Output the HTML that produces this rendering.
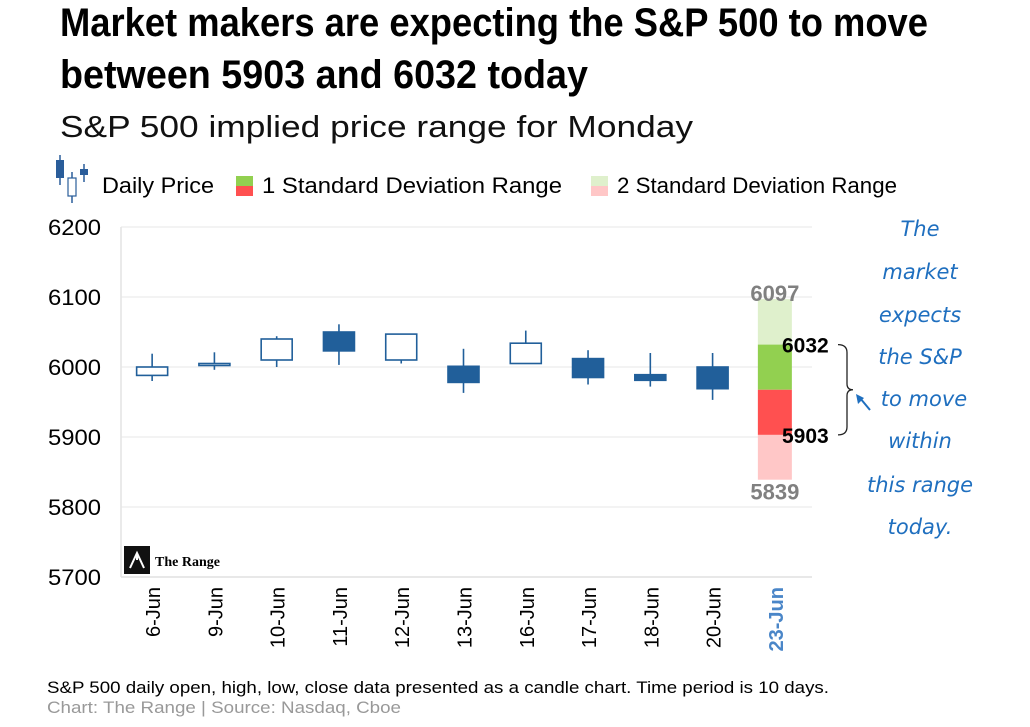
<!DOCTYPE html>
<html><head><meta charset="utf-8"><style>
body{margin:0;width:1030px;height:722px;background:#fff;overflow:hidden;font-family:"Liberation Sans",sans-serif}
</style></head><body>
<svg width="1030" height="722" viewBox="0 0 1030 722" xmlns="http://www.w3.org/2000/svg">
<text x="60" y="36" font-family="Liberation Sans Narrow, Liberation Sans, sans-serif" font-weight="bold" font-size="40" textLength="868" lengthAdjust="spacingAndGlyphs">Market makers are expecting the S&amp;P 500 to move</text>
<text x="60" y="88" font-family="Liberation Sans Narrow, Liberation Sans, sans-serif" font-weight="bold" font-size="40" textLength="528" lengthAdjust="spacingAndGlyphs">between 5903 and 6032 today</text>
<text x="60" y="137" font-size="31" fill="#111" textLength="633" lengthAdjust="spacingAndGlyphs">S&amp;P 500 implied price range for Monday</text>
<g>
<g>
<line x1="60" y1="155" x2="60" y2="185" stroke="#2a5d9a" stroke-width="1.5"/><rect x="56" y="160" width="8" height="18" fill="#2a5d9a"/>
<line x1="72" y1="172" x2="72" y2="203" stroke="#2a5d9a" stroke-width="1.5"/><rect x="68" y="178" width="8" height="18" fill="#fff" stroke="#2a5d9a" stroke-width="1.2"/>
<line x1="84" y1="164" x2="84" y2="182" stroke="#2a5d9a" stroke-width="1.5"/><rect x="80" y="169" width="8" height="6" fill="#2a5d9a"/>
</g>
<text x="102" y="193" font-size="22" textLength="112" lengthAdjust="spacingAndGlyphs">Daily Price</text>
<rect x="236" y="176" width="17" height="10" fill="#92d050"/><rect x="236" y="186" width="17" height="10" fill="#ff5050"/>
<text x="262" y="193" font-size="22" textLength="300" lengthAdjust="spacingAndGlyphs">1 Standard Deviation Range</text>
<rect x="591" y="176" width="17" height="10" fill="#dff0cc"/><rect x="591" y="186" width="17" height="10" fill="#ffc7c7"/>
<text x="617" y="193" font-size="22" textLength="280" lengthAdjust="spacingAndGlyphs">2 Standard Deviation Range</text>
</g>
<g id="plot"></g>
<text x="47" y="693" font-size="17" textLength="782" lengthAdjust="spacingAndGlyphs">S&amp;P 500 daily open, high, low, close data presented as a candle chart. Time period is 10 days.</text>
<text x="47" y="713" font-size="17" fill="#999" textLength="354" lengthAdjust="spacingAndGlyphs">Chart: The Range | Source: Nasdaq, Cboe</text>
<g>
<rect x="124" y="546" width="26" height="28" fill="#111"/>
<path d="M130 568 L137 553 L144 568 M137 553 L137 560" stroke="#fff" stroke-width="2" fill="none"/>
<text x="155" y="566" font-family="Liberation Serif, serif" font-weight="bold" font-size="14">The Range</text>
</g>
<g fill="#1f6fbf" font-family="DejaVu Sans, sans-serif" font-style="oblique" font-size="21" text-anchor="middle">
<text x="920" y="236">The</text><text x="920" y="279">market</text><text x="920" y="322">expects</text>
<text x="920" y="364">the S&amp;P</text><text x="924" y="406">to move</text><text x="920" y="448">within</text>
<text x="920" y="492">this range</text><text x="920" y="534">today.</text>
</g>
<path d="M870 410 L860 398" stroke="#1f6fbf" stroke-width="2"/>
<path d="M856 394 L864 398 L858 404 Z" fill="#1f6fbf"/>
</svg>
<script>
const categories=["6-Jun","9-Jun","10-Jun","11-Jun","12-Jun","13-Jun","16-Jun","17-Jun","18-Jun","20-Jun","23-Jun"];
const opens=[5988,6004,6010,6050,6010,6001,6005,6012,5989,6000];
const highs=[6019,6021,6044,6061,6047,6026,6052,6024,6020,6020];
const lows=[5980,5996,6000,6003,6005,5963,6005,5975,5972,5953];
const closes=[6000,6005,6040,6023,6047,5978,6034,5985,5981,5969];
const rangeLevels=[6097,6032,5903,5839];
const yTicks=[5700,5800,5900,6000,6100,6200];
const NS="http://www.w3.org/2000/svg";
const g=document.getElementById('plot');
const L=121,R=806,T=227,B=577,ymin=5700,ymax=6200;
const slot=(R-L)/categories.length;
const x=i=>L+slot*(i+0.5);
const y=v=>B-(v-ymin)/(ymax-ymin)*(B-T);
function el(t,a){const e=document.createElementNS(NS,t);for(const k in a)e.setAttribute(k,a[k]);g.appendChild(e);return e;}
yTicks.forEach(v=>{
 const l=el('line',{x1:L,x2:812,y1:y(v),y2:y(v),stroke:v===5700?'#d9d9d9':'#ececec','stroke-width':1.3});
 
 
 const t=el('text',{x:101,y:y(v)+8,'text-anchor':'end','font-size':22,textLength:53,lengthAdjust:'spacingAndGlyphs'});
 t.textContent=v;
 
 
});
const ax=el('line',{x1:L,x2:L,y1:T,y2:B,stroke:'#e4e4e4','stroke-width':1.5});


const mid=(rangeLevels[1]+rangeLevels[2])/2;
const bw=34,bx=x(10)-bw/2;
[[rangeLevels[0],rangeLevels[1],'#dff0cc','band-2sd-upper'],[rangeLevels[1],mid,'#92d050','band-1sd-upper'],[mid,rangeLevels[2],'#ff5050','band-1sd-lower'],[rangeLevels[2],rangeLevels[3],'#ffc7c7','band-2sd-lower']].forEach(b=>{
 const r=el('rect',{x:bx,width:bw,y:y(b[0]),height:y(b[1])-y(b[0]),fill:b[2]});
 
 
});
const t1=el('text',{x:x(10),y:y(rangeLevels[0])+2,'text-anchor':'middle','font-size':22,'font-weight':'bold',fill:'#808080'});t1.textContent=rangeLevels[0];


const t4=el('text',{x:x(10),y:y(rangeLevels[3])+20,'text-anchor':'middle','font-size':22,'font-weight':'bold',fill:'#808080'});t4.textContent=rangeLevels[3];


const t2=el('text',{x:782,y:y(rangeLevels[1])+8,'font-size':21,'font-weight':'bold'});t2.textContent=rangeLevels[1];


const t3=el('text',{x:782,y:y(rangeLevels[2])+8,'font-size':21,'font-weight':'bold'});t3.textContent=rangeLevels[2];


const y1=y(rangeLevels[1]),y2=y(rangeLevels[2]),ym=(y1+y2)/2;
const br=el('path',{d:`M838 ${y1} Q847 ${y1} 847 ${y1+8} L847 ${ym-6} Q847 ${ym} 853 ${ym} Q847 ${ym} 847 ${ym+6} L847 ${y2-8} Q847 ${y2} 838 ${y2}`,fill:'none',stroke:'#222','stroke-width':1.3});


opens.forEach((o,i)=>{
 const c=closes[i],up=c>=o,cx=x(i),w=31;
 const wk=el('line',{x1:cx,x2:cx,y1:y(highs[i]),y2:y(lows[i]),stroke:'#215f9a','stroke-width':1.6});
 
 
 const top=y(Math.max(o,c)),h=Math.max(2,y(Math.min(o,c))-top);
 const r=el('rect',{x:cx-w/2,y:top,width:w,height:h,fill:up?'#fff':'#215f9a',stroke:'#215f9a','stroke-width':1.6});
 
 
});
categories.forEach((c,i)=>{
 const last=i===categories.length-1;
 const t=el('text',{transform:`translate(${x(i)+8},587) rotate(-90)`,'text-anchor':'end','font-size':20,'font-weight':last?'bold':'normal',fill:last?'#4a86c8':'#000'});
 t.textContent=c;
 
 
});
</script>
</body></html>
